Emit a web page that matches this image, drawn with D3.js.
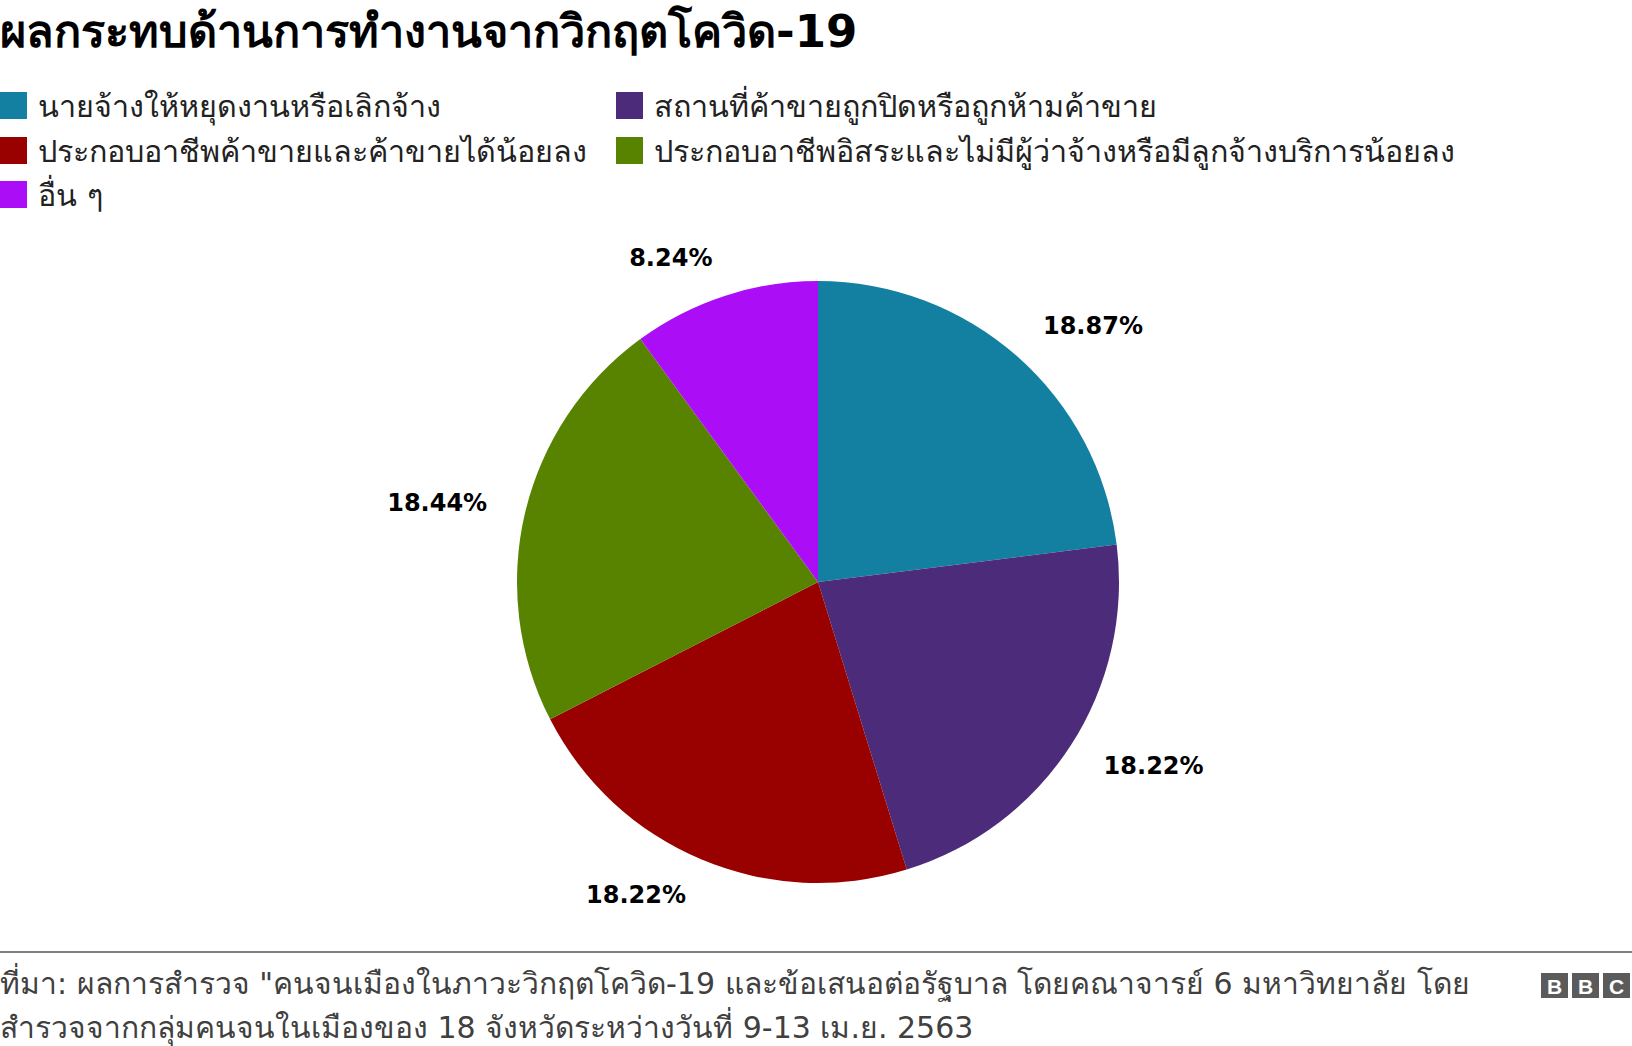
<!DOCTYPE html>
<html><head><meta charset="utf-8">
<script src="https://cdn.jsdelivr.net/npm/d3@7"></script>
<style>
html,body{margin:0;padding:0;background:#fff;}
svg{display:block;}
</style></head>
<body>
<svg id="chart" width="1632" height="1046"></svg>
<script>
const title = "ผลกระทบด้านการทำงานจากวิกฤตโควิด-19";
const categories = [
  "นายจ้างให้หยุดงานหรือเลิกจ้าง",
  "สถานที่ค้าขายถูกปิดหรือถูกห้ามค้าขาย",
  "ประกอบอาชีพค้าขายและค้าขายได้น้อยลง",
  "ประกอบอาชีพอิสระและไม่มีผู้ว่าจ้างหรือมีลูกจ้างบริการน้อยลง",
  "อื่น ๆ"
];
const values = [18.87, 18.22, 18.22, 18.44, 8.24];
const colors = ["#1380a1", "#4c2c7a", "#990000", "#588300", "#ab0ef6"];
const footerLines = [
  "ที่มา: ผลการสำรวจ \"คนจนเมืองในภาวะวิกฤตโควิด-19 และข้อเสนอต่อรัฐบาล โดยคณาจารย์ 6 มหาวิทยาลัย โดย",
  "สำรวจจากกลุ่มคนจนในเมืองของ 18 จังหวัดระหว่างวันที่ 9-13 เม.ย. 2563"
];

const svg = d3.select("#chart");
const font = "'DejaVu Sans', 'Noto Sans', sans-serif";

// Title
svg.append("text").attr("x", 0).attr("y", 47)
  .attr("font-family", font).attr("font-weight", "bold").attr("font-size", 45)
  .attr("fill", "#000").text(title);

// Legend
const legendPos = [[0,106],[616,106],[0,151],[616,151],[0,195]];
const lg = svg.append("g");
categories.forEach((c, i) => {
  const [x, y] = legendPos[i];
  lg.append("rect").attr("x", x).attr("y", y - 14).attr("width", 27).attr("height", 27).attr("fill", colors[i]);
  lg.append("text").attr("x", x + 38).attr("y", y).attr("dy", "0.35em")
    .attr("font-family", font).attr("font-size", 30.5).attr("fill", "#222").text(c);
});

// Pie
const cx = 818, cy = 582, r = 301;
const pie = d3.pie().sort(null).value(d => d)(values);
const arc = d3.arc().innerRadius(0).outerRadius(r);
const g = svg.append("g").attr("transform", `translate(${cx},${cy})`);
g.selectAll("path").data(pie).join("path")
  .attr("d", arc).attr("fill", (d, i) => colors[i]);

const labelArc = d3.arc().innerRadius(340).outerRadius(340);
g.selectAll("text.lbl").data(pie).join("text").attr("class", "lbl")
  .attr("transform", d => `translate(${labelArc.centroid(d)})`)
  .attr("text-anchor", d => ((d.startAngle + d.endAngle) / 2) < Math.PI ? "start" : "end")
  .attr("dy", "0.3em")
  .attr("font-family", font).attr("font-weight", "bold").attr("font-size", 24)
  .attr("fill", "#000")
  .text(d => d.data.toFixed(2) + "%");

// Footer
svg.append("rect").attr("x", 0).attr("y", 951).attr("width", 1632).attr("height", 2).attr("fill", "#808080");
footerLines.forEach((t, i) => {
  svg.append("text").attr("x", 0).attr("y", 983 + i * 44).attr("dy", "0.35em")
    .attr("font-family", font).attr("font-size", 30).attr("fill", "#404040").text(t);
});

// BBC logo
const logo = svg.append("g").attr("transform", "translate(1541,973)");
["B","B","C"].forEach((ch, i) => {
  logo.append("rect").attr("x", i * 31).attr("y", 0).attr("width", 27).attr("height", 25).attr("fill", "#5b5b5b");
  logo.append("text").attr("x", i * 31 + 13.5).attr("y", 13).attr("dy", "0.36em").attr("text-anchor", "middle")
    .attr("font-family", "'Liberation Sans', Arial, sans-serif").attr("font-weight", "bold").attr("font-size", 21)
    .attr("fill", "#fff").text(ch);
});
</script>
</body></html>
